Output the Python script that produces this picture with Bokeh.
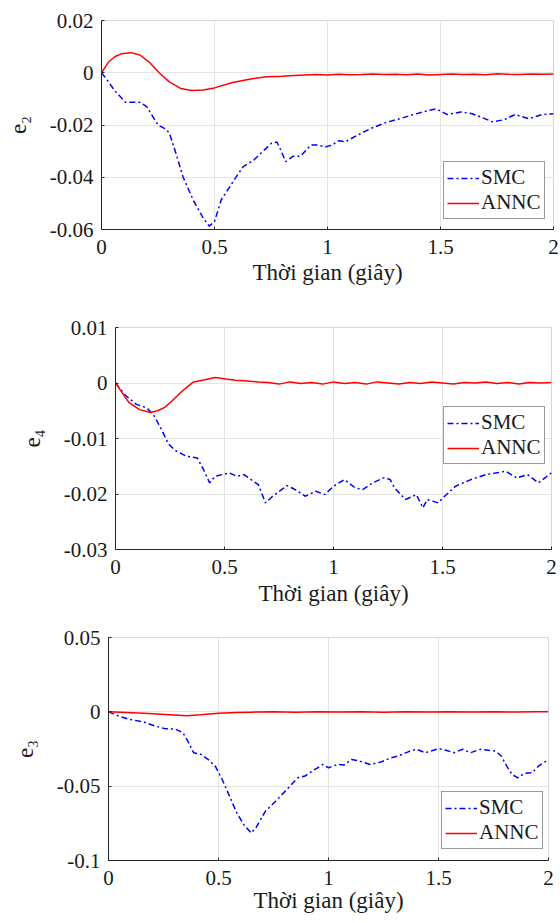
from bokeh.plotting import figure
from bokeh.layouts import column, row
from bokeh.models import (FixedTicker, CustomJSTickFormatter, Legend, LegendItem, Range1d,
                          Spacer)
from bokeh.embed import file_html
from bokeh.resources import INLINE

# ---------------- data ----------------
x_ticks = [0, 0.5, 1, 1.5, 2]

t1_smc = [0, 0.027, 0.058, 0.106, 0.17, 0.2, 0.25, 0.28, 0.30, 0.33, 0.36, 0.405, 0.45, 0.476, 0.5,
          0.53, 0.58, 0.626, 0.674, 0.72, 0.752, 0.776, 0.79, 0.815, 0.847, 0.88, 0.926, 0.957, 0.99,
          1.02, 1.05, 1.08, 1.13, 1.19, 1.26, 1.32, 1.38, 1.45, 1.48, 1.53, 1.59, 1.64, 1.68, 1.73,
          1.78, 1.83, 1.89, 1.95, 2.0]
e2_smc = [0, -0.003, -0.0068, -0.0113, -0.0113, -0.013, -0.020, -0.0214, -0.023, -0.031, -0.0397,
          -0.0486, -0.0556, -0.0587, -0.057, -0.0486, -0.042, -0.036, -0.0334, -0.0296, -0.027,
          -0.0265, -0.029, -0.034, -0.032, -0.032, -0.0277, -0.0277, -0.0284, -0.0277, -0.026,
          -0.0264, -0.024, -0.0214, -0.019, -0.0176, -0.016, -0.0144, -0.0138, -0.016, -0.015,
          -0.0157, -0.017, -0.0188, -0.018, -0.016, -0.0176, -0.016, -0.0157]
t1_annc = [0, 0.03, 0.06, 0.09, 0.13, 0.17, 0.21, 0.255, 0.3, 0.35, 0.40, 0.45, 0.5, 0.58, 0.66,
           0.73, 0.8, 0.85, 0.9, 0.95, 1.0, 1.05, 1.1, 1.15, 1.2, 1.25, 1.3, 1.35, 1.4, 1.45, 1.5,
           1.55, 1.6, 1.65, 1.7, 1.75, 1.8, 1.85, 1.9, 1.95, 2.0]
e2_annc = [0, 0.004, 0.0062, 0.0073, 0.0077, 0.0068, 0.0042, 0.0, -0.0035, -0.006, -0.0068,
           -0.0066, -0.0058, -0.0037, -0.0024, -0.0015, -0.0013, -0.0011, -0.0009, -0.0007,
           -0.0009, -0.0006, -0.0008, -0.0007, -0.0005, -0.0007, -0.0006, -0.0008, -0.0005,
           -0.0009, -0.0007, -0.0005, -0.0007, -0.0006, -0.0008, -0.0004, -0.0006, -0.0007,
           -0.0005, -0.0006, -0.0005]
e2_ticks = [-0.06, -0.04, -0.02, 0, 0.02]

t2_smc = [0, 0.045, 0.094, 0.144, 0.177, 0.21, 0.243, 0.276, 0.325, 0.375, 0.4, 0.432, 0.457,
          0.523, 0.556, 0.589, 0.622, 0.655, 0.688, 0.721, 0.787, 0.82, 0.87, 0.919, 0.96, 1.0,
          1.05, 1.1, 1.134, 1.18, 1.23, 1.26, 1.28, 1.33, 1.38, 1.41, 1.43, 1.48, 1.51, 1.56,
          1.63, 1.7, 1.745, 1.79, 1.84, 1.89, 1.94, 2.0]
e4_smc = [0, -0.0022, -0.0038, -0.0045, -0.0059, -0.0083, -0.011, -0.0122, -0.0132, -0.0135,
          -0.0153, -0.018, -0.0168, -0.0162, -0.0168, -0.0165, -0.0174, -0.0183, -0.0216, -0.0204,
          -0.0185, -0.0191, -0.0204, -0.0195, -0.0201, -0.0186, -0.0174, -0.0189, -0.0192, -0.018,
          -0.0171, -0.0174, -0.0189, -0.021, -0.0201, -0.0225, -0.021, -0.0216, -0.0204, -0.0186,
          -0.0174, -0.0165, -0.0162, -0.0159, -0.0171, -0.0165, -0.018, -0.0162]
t2_annc = [0, 0.028, 0.061, 0.11, 0.16, 0.193, 0.226, 0.26, 0.31, 0.358, 0.41, 0.457, 0.506,
           0.55, 0.59, 0.655, 0.7, 0.75, 0.8, 0.85, 0.9, 0.95, 1.0, 1.05, 1.1, 1.15, 1.2, 1.25,
           1.3, 1.35, 1.4, 1.45, 1.5, 1.55, 1.6, 1.65, 1.7, 1.75, 1.8, 1.85, 1.9, 1.95, 2.0]
e4_annc = [0, -0.0016, -0.0035, -0.0048, -0.0053, -0.005, -0.0044, -0.0032, -0.0013, 0.0002,
           0.0006, 0.001, 0.0007, 0.0005, 0.0004, 0.0002, 0.0001, -0.0002, 0.0002, -0.0001,
           0.0001, -0.0002, 0.0002, -0.0001, 0.0001, -0.0002, 0.0002, 0.0, -0.0002, 0.0001,
           -0.0001, 0.0002, 0.0, -0.0002, 0.0001, 0.0, 0.0002, -0.0001, 0.0001, -0.0002, 0.0001,
           0.0, 0.0001]
e4_ticks = [-0.03, -0.02, -0.01, 0, 0.01]

t3_smc = [0, 0.044, 0.093, 0.16, 0.21, 0.256, 0.305, 0.338, 0.36, 0.387, 0.42, 0.452, 0.485,
          0.517, 0.55, 0.583, 0.615, 0.648, 0.67, 0.713, 0.76, 0.81, 0.86, 0.893, 0.926, 0.975,
          1.0, 1.04, 1.07, 1.105, 1.14, 1.19, 1.237, 1.286, 1.318, 1.37, 1.4, 1.44, 1.5, 1.53,
          1.57, 1.61, 1.645, 1.69, 1.76, 1.785, 1.81, 1.835, 1.86, 1.89, 1.925, 1.955, 2.0]
e3_smc = [0, -0.0027, -0.005, -0.0068, -0.0095, -0.0113, -0.0117, -0.014, -0.0196, -0.0275,
          -0.0286, -0.032, -0.0365, -0.0455, -0.0567, -0.068, -0.0759, -0.0815, -0.078, -0.0669,
          -0.0601, -0.0523, -0.0444, -0.0432, -0.0399, -0.0354, -0.0376, -0.0354, -0.0358,
          -0.032, -0.0331, -0.0354, -0.0338, -0.0309, -0.0297, -0.0264, -0.0252, -0.0275,
          -0.0248, -0.0257, -0.0275, -0.0252, -0.0275, -0.0252, -0.0264, -0.0297, -0.0365,
          -0.0421, -0.0444, -0.0414, -0.041, -0.0365, -0.032]
t3_annc = [0, 0.08, 0.16, 0.24, 0.32, 0.355, 0.42, 0.5, 0.58, 0.65, 0.75, 0.85, 0.95, 1.05,
           1.15, 1.25, 1.35, 1.45, 1.55, 1.65, 1.75, 1.85, 1.95, 2.0]
e3_annc = [0, -0.0004, -0.0009, -0.0016, -0.0023, -0.0027, -0.002, -0.0009, -0.0004, -0.0002,
           0.0, -0.0002, 0.0001, -0.0001, 0.0, -0.0002, 0.0, -0.0001, 0.0001, -0.0001, 0.0,
           -0.0001, 0.0, 0.0]
e3_ticks = [-0.1, -0.05, 0, 0.05]

x_label = "Thời gian (giây)"
series_names = ["SMC", "ANNC"]

FONT = "Liberation Serif"
fmt = CustomJSTickFormatter(code="return String(Math.round(tick*1000)/1000);")
LB = 101  # left border of every figure
RB = 7


def make(ts, ys, ta, ya, yticks, ylabel, fw, height, bt, bb, leg_loc, xl_stand):
    p = figure(width=LB + fw + RB, height=height, x_range=Range1d(0, 2),
               y_range=Range1d(min(yticks), max(yticks)),
               output_backend="svg", toolbar_location=None,
               min_border_left=LB, min_border_top=bt, min_border_bottom=bb,
               min_border_right=RB, background_fill_color="white",
               border_fill_color="white")
    p.outline_line_color = "#d6d6d6"
    r1 = p.line(ts, ys, line_color="#0000ff", line_width=1.5, line_dash="6 3 2 3")
    r2 = p.line(ta, ya, line_color="#ff0000", line_width=1.5)
    p.xaxis.ticker = FixedTicker(ticks=x_ticks)
    p.yaxis.ticker = FixedTicker(ticks=yticks)
    p.xaxis.formatter = fmt
    p.yaxis.formatter = fmt
    for ax in (p.xaxis, p.yaxis):
        ax.axis_line_color = "#262626"
        ax.axis_line_width = 1
        ax.major_tick_line_color = "#262626"
        ax.major_tick_in = 3
        ax.major_tick_out = 0
        ax.minor_tick_line_color = None
        ax.major_label_text_font = FONT
        ax.major_label_text_font_size = "21px"
        ax.major_label_text_color = "#1a1a1a"
        ax.axis_label_text_font = FONT
        ax.axis_label_text_font_size = "23px"
        ax.axis_label_text_font_style = "normal"
        ax.axis_label_text_color = "#1a1a1a"
    p.xaxis.axis_label = x_label
    p.yaxis.axis_label = ylabel
    p.xaxis.major_label_standoff = 10
    p.xaxis.axis_label_standoff = xl_stand
    p.yaxis.major_label_standoff = 8
    p.yaxis.axis_label_standoff = 16
    p.grid.grid_line_color = "#e4e4e4"
    p.grid.grid_line_width = 1
    legend = Legend(items=[LegendItem(label=series_names[0], renderers=[r1]),
                           LegendItem(label=series_names[1], renderers=[r2])],
                    location=leg_loc, margin=0, padding=3, spacing=0,
                    label_text_font=FONT, label_text_font_size="21px",
                    label_text_color="#1a1a1a", label_height=20, glyph_height=20,
                    glyph_width=32, label_standoff=2,
                    border_line_color="#333333", border_line_width=1,
                    background_fill_color="white", background_fill_alpha=1)
    p.add_layout(legend)
    return p


p1 = make(t1_smc, e2_smc, t1_annc, e2_annc, e2_ticks, "e₂", 452, 299, 20, 70, (342, 10), 3)
p2 = make(t2_smc, e4_smc, t2_annc, e4_annc, e4_ticks, "e₄", 436, 316, 28, 66, (328, 85), 4)
p3 = make(t3_smc, e3_smc, t3_annc, e3_annc, e3_ticks, "e₃", 440, 307, 22, 62, (333, 11), 0)

layout = column(p1,
                row(Spacer(width=14, height=10), p2),
                row(Spacer(width=7, height=10), p3))
open("out.html", "w").write(file_html(layout, INLINE))
